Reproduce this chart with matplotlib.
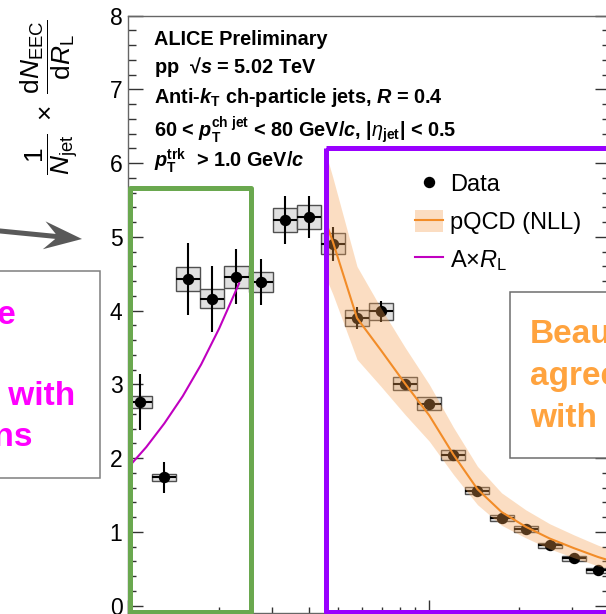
"""
ALICE preliminary EEC in pp at 5.02 TeV, with the annotation boxes of the slide
"""

import matplotlib
matplotlib.use('Agg')
import matplotlib.pyplot as plt
from matplotlib.patches import Rectangle, Patch, FancyArrow
from matplotlib.lines import Line2D
from matplotlib.ticker import MultipleLocator, LogLocator, NullFormatter

plt.rcParams['font.family'] = ['Liberation Sans', 'DejaVu Sans']
plt.rcParams['mathtext.fontset'] = 'custom'
plt.rcParams['mathtext.rm'] = 'Liberation Sans'
plt.rcParams['mathtext.it'] = 'Liberation Sans:italic'
plt.rcParams['mathtext.bf'] = 'Liberation Sans:bold'
plt.rcParams['mathtext.bfit'] = 'Liberation Sans:italic:bold'

# data points (bin centres in R_L)
rl = [0.01096, 0.01319, 0.01586, 0.01908, 0.02294, 0.02758, 0.03317, 0.03989, 0.04797, 0.05768,
      0.06937, 0.08342, 0.1003, 0.1206, 0.1450, 0.1744, 0.2098, 0.2522, 0.3033, 0.3647]
eec = [2.76, 1.74, 4.43, 4.16, 4.46, 4.39, 5.23, 5.27, 4.91, 3.90,
       3.99, 3.01, 2.74, 2.04, 1.56, 1.19, 1.04, 0.82, 0.64, 0.48]
stat = [0.38, 0.21, 0.49, 0.45, 0.37, 0.31, 0.33, 0.29, 0.23, 0.15,
        0.14, 0.07, 0.06, 0.04, 0.03, 0.03, 0.02, 0.02, 0.02, 0.02]
syst = [0.08, 0.05, 0.16, 0.13, 0.15, 0.14, 0.165, 0.16, 0.14, 0.105,
        0.115, 0.09, 0.085, 0.07, 0.05, 0.045, 0.045, 0.035, 0.03, 0.035]

# pQCD (NLL) central value and band
nll_rl = [0.0460, 0.0480, 0.0577, 0.0694, 0.0834, 0.1003, 0.1206, 0.1450, 0.1744, 0.2098, 0.2522, 0.3033, 0.3647, 0.4000]
nll_mid = [5.14, 4.93, 3.90, 3.46, 3.01, 2.58, 2.05, 1.58, 1.27, 1.07, 0.91, 0.78, 0.66, 0.61]
nll_hi = [6.06, 5.80, 4.60, 4.03, 3.50, 3.00, 2.42, 1.89, 1.53, 1.30, 1.11, 0.96, 0.82, 0.76]
nll_lo = [4.40, 4.22, 3.34, 2.97, 2.59, 2.23, 1.78, 1.37, 1.09, 0.92, 0.77, 0.65, 0.54, 0.50]

# A x R_L curve
lin_rl = [0.0100, 0.0115, 0.0132, 0.0152, 0.0175, 0.0201, 0.0234]
lin_y = [1.87, 2.15, 2.47, 2.84, 3.27, 3.76, 4.37]

half_bin = 10**0.04

fig = plt.figure(figsize=(6.06, 6.14), dpi=100)
ax = fig.add_axes([128/606, 1.5/614, 482/606, 596.8/614])

for x, y, s in zip(rl, eec, syst):
    ax.add_patch(Rectangle((x/half_bin, y - s), x*half_bin - x/half_bin, 2*s,
                           fc='#e0e0e0', ec='#505050', lw=1.0, zorder=2))
xerr = [[x - x/half_bin for x in rl], [x*half_bin - x for x in rl]]
ax.errorbar(rl, eec, xerr=xerr, yerr=stat, fmt='o', color='black', ms=7.2,
            elinewidth=1.5, capsize=0, zorder=3)

ax.fill_between(nll_rl, nll_lo, nll_hi, color='#f5a050', alpha=0.35, lw=0, zorder=4)
ax.plot(nll_rl, nll_mid, color='#f28c28', lw=1.5, zorder=5)
ax.plot(lin_rl, lin_y, color='#c000c0', lw=1.5, zorder=5)

ax.set_xscale('log')
ax.set_xlim(0.01, 0.4)
ax.set_ylim(-0.093, 8.0)
ax.set_yticks(range(9))
ax.yaxis.set_minor_locator(MultipleLocator(0.2))
ax.xaxis.set_minor_locator(LogLocator(subs=range(2, 10)))
ax.xaxis.set_minor_formatter(NullFormatter())
ax.tick_params(axis='y', which='both', direction='in', left=True, right=True,
               labelsize=16.5, pad=4, color='#333333', width=1.0)
ax.tick_params(axis='y', which='major', length=11)
ax.tick_params(axis='y', which='minor', length=5.5)
ax.tick_params(axis='x', which='both', direction='in', top=False, labelbottom=False,
               color='#333333', width=1.0)
ax.tick_params(axis='x', which='major', length=9.5)
ax.tick_params(axis='x', which='minor', length=4.5)
for sp in ax.spines.values():
    sp.set_color('#666666')
    sp.set_linewidth(1.0)

handles = [Line2D([], [], marker='o', color='black', ls='none', ms=7.2),
           (Patch(fc='#f5a050', alpha=0.35, ec='none'), Line2D([], [], color='#f28c28', lw=1.5)),
           Line2D([], [], color='#c000c0', lw=1.5)]
labels = ['Data', 'pQCD (NLL)', r'A$\times$$R_{\rm L}$']
ax.legend(handles, labels, loc='upper left', bbox_to_anchor=(415/606, 1 - 172/614),
          bbox_transform=fig.transFigure, frameon=False, fontsize=17, borderpad=0,
          borderaxespad=0, handlelength=1.2, handleheight=1.1, handletextpad=0.3,
          labelspacing=0.57)

# overlay in pixel coordinates for the slide annotations
ov = fig.add_axes([0, 0, 1, 1], zorder=5)
ov.set_xlim(0, 606)
ov.set_ylim(614, 0)
ov.axis('off')
ov.patch.set_alpha(0)

ov.text(50, 97, r'$\dfrac{1}{N_{\rm jet}}\ \times\ \dfrac{{\rm d}N_{\rm EEC}}{{\rm d}R_{\rm L}}$',
        rotation=90, ha='center', va='center', fontsize=19)

info = ['ALICE Preliminary',
        r'pp  √$\mathbfit{s}$ = 5.02 TeV',
        r'Anti-$\mathbfit{k}_{\mathbf{T}}$ ch-particle jets, $\mathbfit{R}$ = 0.4',
        r'60 < $\mathbfit{p}_{\mathbf{T}}^{\mathbf{ch\ jet}}$ < 80 GeV/$\mathbfit{c}$, |$\eta_{\mathbf{jet}}$| < 0.5',
        r'$\mathbfit{p}_{\mathbf{T}}^{\mathbf{trk}}$  > 1.0 GeV/$\mathbfit{c}$']
for s, yb in zip(info, [45, 73, 103, 137, 167]):
    ov.text(154, yb, s, fontsize=14.3, fontweight='bold', va='baseline')

ov.add_patch(Rectangle((130, 188), 121, 424, fill=False, ec='#6aa84f', lw=3.6, joinstyle='round'))
ov.add_patch(Rectangle((326, 148), 400, 464, fill=False, ec='#9900ff', lw=3.6, joinstyle='round'))

ov.add_patch(FancyArrow(-10, 230, 92, 9, width=5, head_width=28, head_length=38, overhang=0.3,
                        length_includes_head=True, color='#595959', lw=0))

ov.add_patch(Rectangle((-40, 271), 140, 207, fc='white', ec='#7f7f7f', lw=1.1))
left_txt = ['Free-hadron phase', 'Linear in R', 'Consistent  with', 'free hadrons']
for s, x, yb in zip(left_txt, [16, -6, 75, 33], [324, 364, 405, 446]):
    ov.text(x, yb, s, ha='right', va='baseline', color='#ff00ff', fontsize=24, fontweight='bold')

ov.add_patch(Rectangle((510, 292), 140, 166, fc='white', ec='#6d6d6d', lw=1.1))
right_txt = ['Beautiful', 'agreement', 'with pQCD']
for s, yb in zip(right_txt, [343, 385, 427]):
    ov.text(530, yb, s, ha='left', va='baseline', color='#ffa33e', fontsize=24, fontweight='bold')

fig.savefig('out.png', dpi=100)
